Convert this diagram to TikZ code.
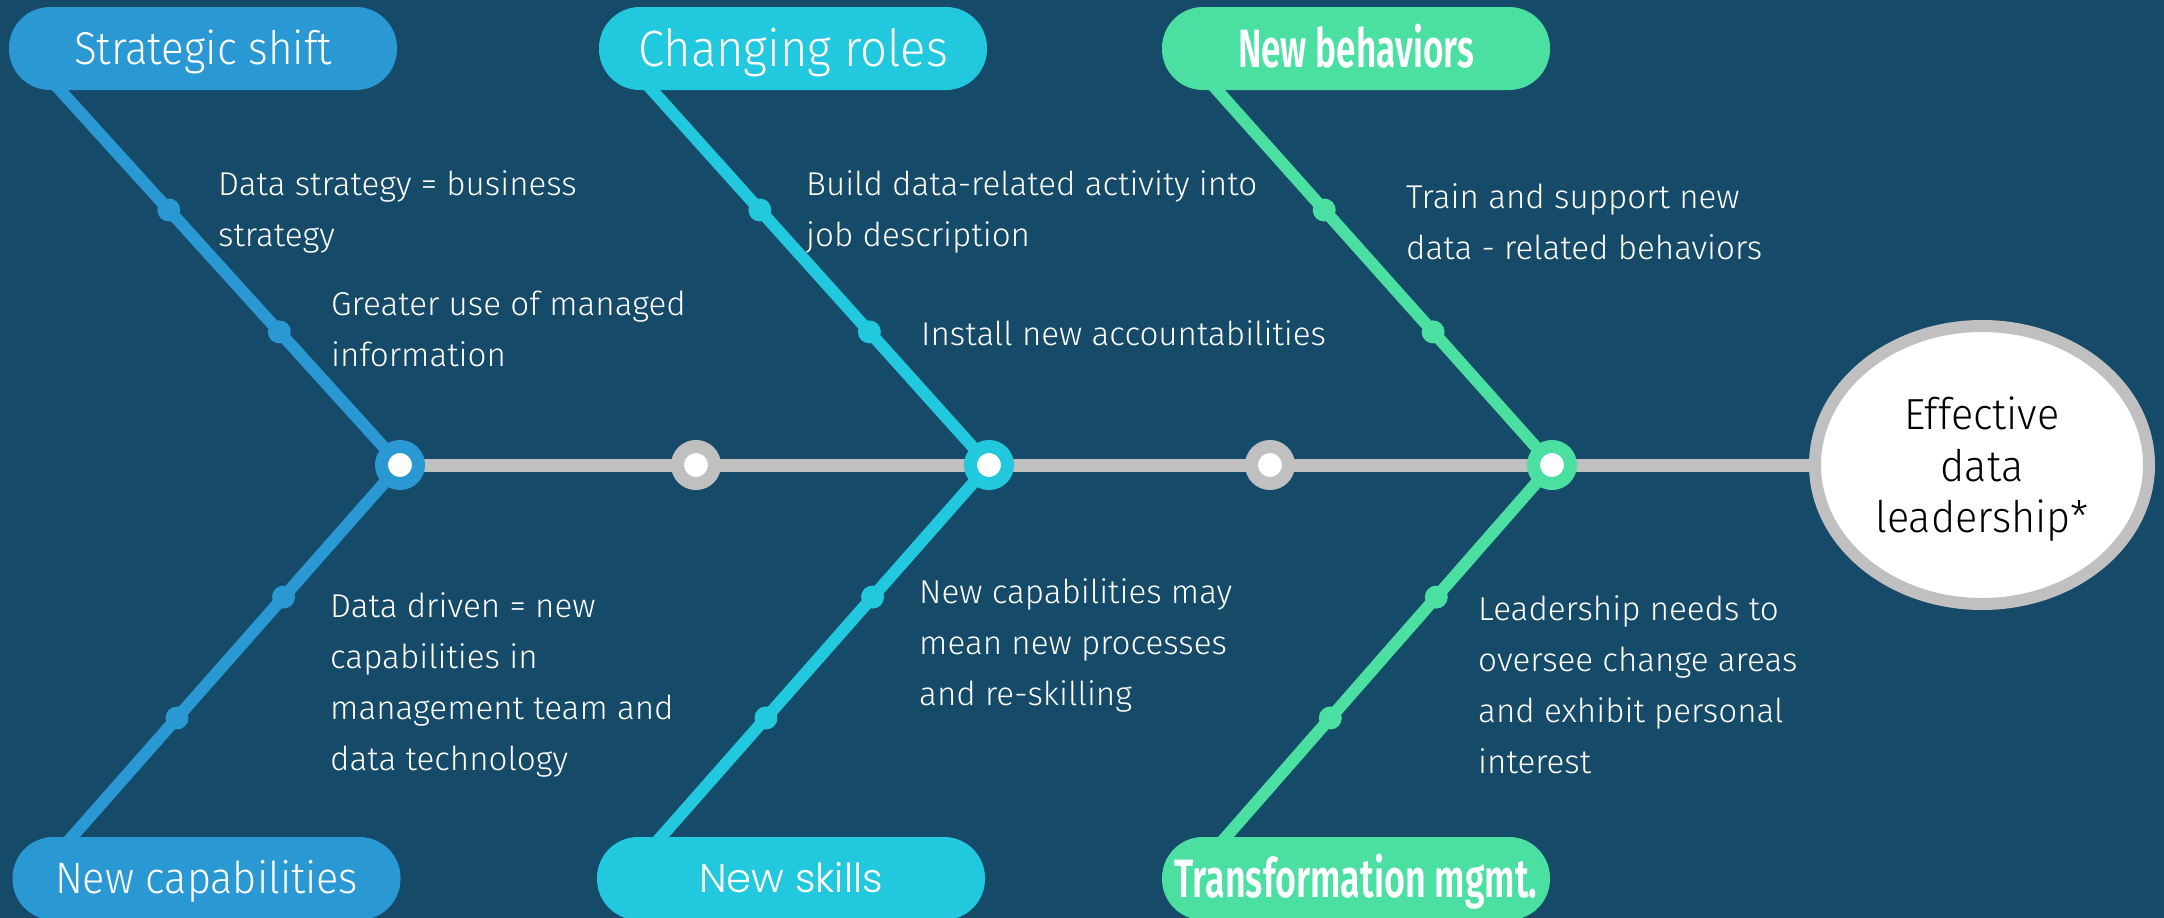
\documentclass[tikz,border=0pt]{standalone}
\usepackage{fontspec}
\usepackage{graphicx}
\usetikzlibrary{shapes.geometric,backgrounds}
\IfFontExistsTF{Fira Sans Light}{\newfontfamily\lightf{Fira Sans Light}}{\newfontfamily\lightf{Fira Sans}}
\IfFontExistsTF{Fira Sans SemiBold}{\newfontfamily\boldf{Fira Sans SemiBold}}{\newfontfamily\boldf{Fira Sans}[FakeBold=2]}
\IfFontExistsTF{Poppins Light}{\newfontfamily\geof{Poppins Light}}{\newfontfamily\geof{Poppins}}
\definecolor{bgc}{HTML}{154A69}
\definecolor{cblue}{HTML}{2A98D3}
\definecolor{ccyan}{HTML}{22C8DE}
\definecolor{cgreen}{HTML}{4BE0A2}
\definecolor{cgrey}{HTML}{C0C0C0}
\newlength\fitlen
\newcommand\fitw[2]{\settowidth\fitlen{#2}\pgfmathsetmacro\fitrat{#1/\fitlen}\scalebox{\fitrat}[1]{#2}}
\newcommand\lblfont{\lightf\fontsize{33}{51}\selectfont}
\newcommand\goalfont{\lightf\fontsize{43.5}{51.5}\selectfont}
\newcommand\lbl[1]{\scalebox{\lblr}[1]{\begin{tabular}[t]{@{}l@{}}#1\end{tabular}}}
\tikzset{
  pill/.style={rectangle, rounded corners=41pt, minimum width=388pt, minimum height=83pt, inner sep=0pt, text=white, text depth=0pt},
  branch/.style={line width=12pt, shorten <=-14pt},
  bead/.style={circle, fill=#1, minimum size=23pt, inner sep=0pt},
  joint/.style={circle, draw=#1, fill=white, line width=13pt, minimum size=37pt, inner sep=0pt},
  note/.style={anchor=base west, inner sep=0pt, text=white, font=\lblfont},
}
\begin{document}
\settowidth\fitlen{\lblfont Build data-related activity into}\pgfmathsetmacro\lblr{451/\fitlen}%
\settowidth\fitlen{\goalfont leadership*}\pgfmathsetmacro\goalr{213/\fitlen}%
\begin{tikzpicture}[x=1pt,y=-1pt]
\useasboundingbox (0,0) rectangle (2164,918);
% joints
\node[joint=cblue] (r1) at (400,465) {};
\node[joint=cgrey] (g1) at (696,465) {};
\node[joint=ccyan] (r2) at (989,465) {};
\node[joint=cgrey] (g2) at (1270,465) {};
\node[joint=cgreen] (r3) at (1552,465) {};
% feet of the branches
\coordinate (f1) at (60,90);
\coordinate (f2) at (652,90);
\coordinate (f3) at (1217,90);
\coordinate (b1) at (72,837);
\coordinate (b2) at (661,837);
\coordinate (b3) at (1226,837);
% pills
\node[pill, fill=cblue, text height=32pt, font=\lightf\fontsize{46}{50}\selectfont] (p1) at (203,48.5) {\fitw{258}{Strategic shift}};
\node[pill, fill=ccyan, text height=35pt, font=\lightf\fontsize{51}{55}\selectfont] (p2) at (793,48.5) {\fitw{310}{Changing roles}};
\node[pill, fill=cgreen, text height=37pt, font=\boldf\fontsize{54}{58}\selectfont] (p3) at (1356,48.5) {\fitw{236}{New behaviors}};
\node[pill, fill=cblue, text height=30pt, font=\lightf\fontsize{44}{48}\selectfont] (q1) at (206.5,878.5) {\fitw{303}{New capabilities}};
\node[pill, fill=ccyan, text height=28pt, font=\geof\fontsize{40}{44}\selectfont] (q2) at (791,878.5) {\fitw{184}{New skills}};
\node[pill, fill=cgreen, text height=37pt, font=\boldf\fontsize{54}{58}\selectfont] (q3) at (1356,878.5) {\fitw{363}{Transformation mgmt.}};
% goal
\node[ellipse, draw=cgrey, fill=white, line width=12pt, minimum width=334pt, minimum height=278pt, inner sep=0pt, font=\goalfont, text=black] (goal) at (1982,465)
  {\raisebox{-6pt}[\height][\depth]{\scalebox{\goalr}[1]{\begin{tabular}{@{}c@{}}Effective\\data\\leadership*\end{tabular}}}};
% labels
\node[note] (t1) at (218,195) {\lbl{Data strategy = business\\strategy}};
\node[note] (t2) at (331,315) {\lbl{Greater use of managed\\information}};
\node[note] (t3) at (330,617) {\lbl{Data driven = new\\capabilities in\\management team and\\data technology}};
\node[note] (t4) at (806,195) {\lbl{Build data-related activity into\\job description}};
\node[note] (t5) at (921,345) {\lbl{Install new accountabilities}};
\node[note] (t6) at (919,603) {\lbl{New capabilities may\\mean new processes\\and re-skilling}};
\node[note] (t7) at (1406,208) {\lbl{Train and support new\\data - related behaviors}};
\node[note] (t8) at (1478,620) {\lbl{Leadership needs to\\oversee change areas\\and exhibit personal\\interest}};
\begin{scope}[on background layer]
\fill[bgc] (0,0) rectangle (2164,918);
\draw[cgrey, line width=13pt] (r1.center) -- (goal.center);
\draw[branch, cblue] (f1) -- (r1.center) node[bead=cblue, pos=.32] (d1) {} node[bead=cblue, pos=.645] (d2) {};
\draw[branch, cblue] (b1) -- (r1.center) node[bead=cblue, pos=.32] (d3) {} node[bead=cblue, pos=.645] (d4) {};
\draw[branch, ccyan] (f2) -- (r2.center) node[bead=ccyan, pos=.32] (d5) {} node[bead=ccyan, pos=.645] (d6) {};
\draw[branch, ccyan] (b2) -- (r2.center) node[bead=ccyan, pos=.32] (d7) {} node[bead=ccyan, pos=.645] (d8) {};
\draw[branch, cgreen] (f3) -- (r3.center) node[bead=cgreen, pos=.32] (d9) {} node[bead=cgreen, pos=.645] (d10) {};
\draw[branch, cgreen] (b3) -- (r3.center) node[bead=cgreen, pos=.32] (d11) {} node[bead=cgreen, pos=.645] (d12) {};
\end{scope}
\end{tikzpicture}
\end{document}
